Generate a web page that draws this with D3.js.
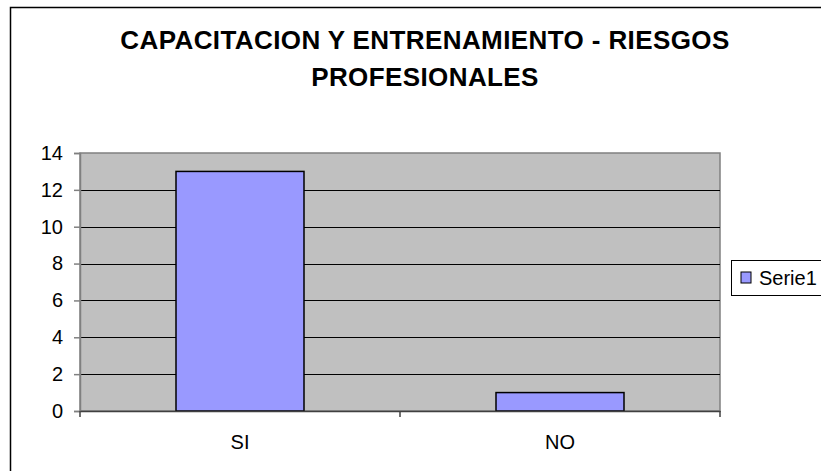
<!DOCTYPE html>
<html lang="es">
<head>
  <meta charset="UTF-8">
  <title>Capacitacion y entrenamiento - Riesgos profesionales</title>
  <script src="https://d3js.org/d3.v7.min.js"></script>
  <style>
    body { margin: 0; background: #fff; font-family: Arial, "Liberation Sans", sans-serif; }
    svg text { font-family: Arial, "Liberation Sans", sans-serif; }
  </style>
</head>
<body>
  <div id="chart"></div>

  <script>
    // datos
    const categorias = ["SI", "NO"];
    const serie1 = [13, 1];
    const nombreSerie = "Serie1";
    const ticksY = [0, 2, 4, 6, 8, 10, 12, 14];
    const tituloLineas = ["CAPACITACION Y ENTRENAMIENTO - RIESGOS", "PROFESIONALES"];

    const W = 821, H = 471;
    const plot = {left: 80, top: 153, right: 720, bottom: 411};

    const svg = d3.select("#chart")
                  .append("svg")
                  .attr("width", W)
                  .attr("height", H);

    // marco exterior (se sale por la derecha y abajo)
    svg.append("rect")
       .attr("x", 10.5).attr("y", 7.5)
       .attr("width", 900).attr("height", 500)
       .attr("fill", "#fff")
       .attr("stroke", "#000")
       .attr("stroke-width", 1.5);

    // titulo
    svg.append("text")
       .attr("x", 425)
       .attr("text-anchor", "middle")
       .style("font-size", "26px")
       .style("font-weight", "bold")
       .style("letter-spacing", "0.4px")
       .selectAll("tspan")
       .data(tituloLineas)
       .enter()
       .append("tspan")
       .attr("x", 425)
       .attr("y", (d, i) => 49 + i * 37)
       .text(d => d);

    const x = d3.scaleBand()
                .domain(categorias)
                .range([plot.left, plot.right])
                .paddingInner(0)
                .paddingOuter(0);

    const y = d3.scaleLinear()
                .domain([0, 14])
                .range([plot.bottom, plot.top]);

    // fondo gris del area de trazado
    svg.append("rect")
       .attr("x", plot.left).attr("y", plot.top)
       .attr("width", plot.right - plot.left)
       .attr("height", plot.bottom - plot.top)
       .attr("fill", "#C0C0C0")
       .attr("stroke", "#808080")
       .attr("stroke-width", 1.5);

    // lineas de division
    svg.append("g")
       .selectAll("line")
       .data(ticksY.filter(t => t > 0 && t < 14))
       .enter()
       .append("line")
       .attr("x1", plot.left).attr("x2", plot.right)
       .attr("y1", d => Math.round(y(d)) + 0.5)
       .attr("y2", d => Math.round(y(d)) + 0.5)
       .attr("stroke", "#000")
       .attr("stroke-width", 1);

    // eje Y
    const ejeY = svg.append("g")
       .attr("transform", `translate(${plot.left},0)`)
       .call(d3.axisLeft(y).tickValues(ticksY).tickSize(6).tickPadding(11).tickFormat(d3.format("d")));
    ejeY.select(".domain").attr("stroke", "#808080").attr("stroke-width", 1.5);
    ejeY.selectAll(".tick line").attr("stroke", "#808080").attr("stroke-width", 1.5);
    ejeY.selectAll("text")
        .attr("fill", "#000")
        .style("font-size", "20px");

    // barras
    const anchoBarra = x.bandwidth() / 2.5;
    svg.selectAll(".bar")
       .data(categorias.map((c, i) => ({cat: c, valor: serie1[i]})))
       .enter()
       .append("rect")
       .attr("class", "bar")
       .attr("x", d => x(d.cat) + (x.bandwidth() - anchoBarra) / 2)
       .attr("y", d => y(d.valor))
       .attr("width", anchoBarra)
       .attr("height", d => y(0) - y(d.valor))
       .attr("fill", "#9999FF")
       .attr("stroke", "#000")
       .attr("stroke-width", 1.5);

    // eje X
    const ejeX = svg.append("g")
       .attr("transform", `translate(0,${plot.bottom})`)
       .call(d3.axisBottom(x).tickSize(0).tickPadding(24));
    ejeX.select(".domain").attr("stroke", "#404040").attr("stroke-width", 1.5);
    ejeX.selectAll("text")
        .attr("fill", "#000")
        .style("font-size", "20px");
    // marcas entre categorias
    svg.append("g")
       .selectAll("line")
       .data([plot.left, x("NO"), plot.right])
       .enter()
       .append("line")
       .attr("x1", d => d).attr("x2", d => d)
       .attr("y1", plot.bottom).attr("y2", plot.bottom + 6)
       .attr("stroke", "#404040")
       .attr("stroke-width", 1.5);

    // leyenda
    const ley = svg.append("g").attr("transform", "translate(731,260)");
    ley.append("rect")
       .attr("x", 0.5).attr("y", 0.5)
       .attr("width", 200).attr("height", 35)
       .attr("fill", "#fff")
       .attr("stroke", "#000")
       .attr("stroke-width", 1);
    ley.append("rect")
       .attr("x", 10).attr("y", 12)
       .attr("width", 10).attr("height", 11)
       .attr("fill", "#9999FF")
       .attr("stroke", "#000")
       .attr("stroke-width", 1);
    ley.append("text")
       .attr("x", 28).attr("y", 25)
       .style("font-size", "20px")
       .text(nombreSerie);
  </script>
</body>
</html>
